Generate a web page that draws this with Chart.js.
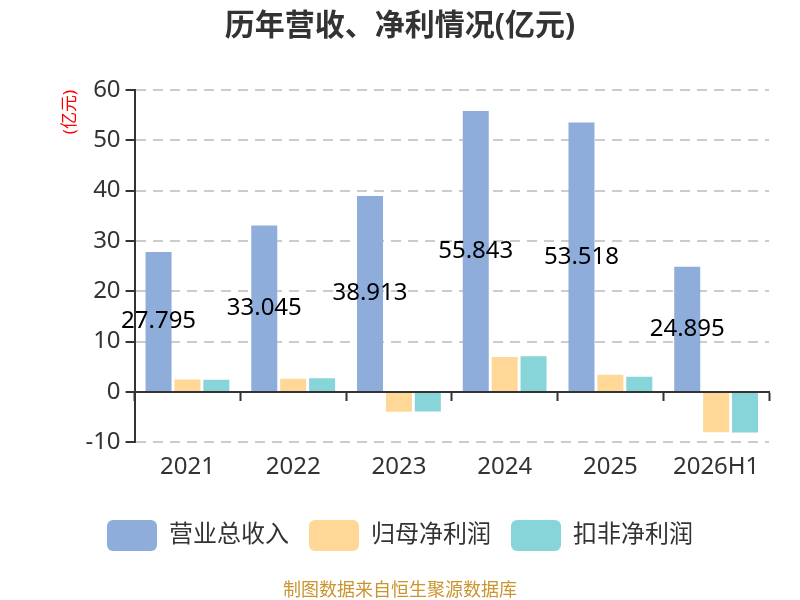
<!DOCTYPE html>
<html>
<head>
<meta charset="utf-8">
<title>历年营收、净利情况</title>
<script src="https://cdn.jsdelivr.net/npm/chart.js@4.4.0/dist/chart.umd.min.js"></script>
<style>
  html, body { margin: 0; padding: 0; background: #fff; }
  #wrap { width: 800px; height: 600px; }
</style>
</head>
<body>
<div id="wrap"><canvas id="barChart"></canvas></div>
<script>
  // data (亿元)
  const years = ['2021', '2022', '2023', '2024', '2025', '2026H1'];
  const revenue = [27.795, 33.045, 38.913, 55.843, 53.518, 24.895];
  const netProfit = [2.47, 2.6, -3.93, 6.93, 3.4, -8.0];
  const deductedProfit = [2.42, 2.73, -3.9, 7.07, 3.0, -8.07];
  const yMin = -10;
  const yMax = 60;
  const yStep = 10;

  const fontFamily = "'Noto Sans', 'Noto Sans CJK SC', sans-serif";
  Chart.defaults.font.family = fontFamily;
  Chart.defaults.color = '#333';

  // revenue value written in the middle of each blue bar
  const valueLabels = {
      id: 'valueLabels',
      afterDatasetsDraw(chart) {
          const ctx = chart.ctx;
          const meta = chart.getDatasetMeta(0);
          ctx.save();
          ctx.font = '24px ' + fontFamily;
          ctx.fillStyle = '#000';
          ctx.textAlign = 'center';
          ctx.textBaseline = 'middle';
          meta.data.forEach((bar, i) => {
              ctx.fillText(revenue[i].toFixed(3), bar.x, (bar.y + bar.base) / 2);
          });
          ctx.restore();
      }
  };

  const barCtx = document.getElementById('barChart').getContext('2d');
  const barChart = new Chart(barCtx, {
      type: 'bar',
      data: {
          labels: years,
          datasets: [{
              label: '营业总收入',
              data: revenue,
              backgroundColor: '#8eaddb',
              xAxisID: 'x'
          }, {
              label: '归母净利润',
              data: netProfit,
              backgroundColor: '#ffd897',
              xAxisID: 'x'
          }, {
              label: '扣非净利润',
              data: deductedProfit,
              backgroundColor: '#87d5d8',
              xAxisID: 'x'
          }]
      },
      options: {
          responsive: true,
          maintainAspectRatio: false,
          animation: false,
          barPercentage: 0.9,
          categoryPercentage: 0.82,
          layout: {
              padding: { left: 31, right: 31, top: 0, bottom: 0 }
          },
          plugins: {
              title: {
                  display: true,
                  text: '历年营收、净利情况(亿元)',
                  color: '#333',
                  font: { size: 30, weight: 'bold' },
                  padding: { top: 8, bottom: 46 }
              },
              subtitle: {
                  display: true,
                  text: '制图数据来自恒生聚源数据库',
                  position: 'bottom',
                  color: '#c9952e',
                  font: { size: 18, lineHeight: 1 },
                  padding: { top: 21, bottom: 0 }
              },
              legend: {
                  position: 'bottom',
                  labels: {
                      boxWidth: 50,
                      boxHeight: 31,
                      padding: 20,
                      color: '#333',
                      font: { size: 24 },
                      useBorderRadius: true,
                      borderRadius: 6
                  }
              },
              tooltip: { enabled: false }
          },
          scales: {
              x: {
                  type: 'category',
                  position: 'bottom',
                  offset: true,
                  grid: { display: false, drawTicks: false },
                  border: { display: false },
                  ticks: { padding: 11, color: '#333', font: { size: 24 } },
                  afterFit(axis) {
                      axis.height += 7;
                  }
              },
              // zero line with the category ticks hanging below it
              x2: {
                  type: 'category',
                  position: { y: 0 },
                  offset: true,
                  grid: {
                      offset: true,
                      drawOnChartArea: false,
                      drawTicks: true,
                      tickLength: 8,
                      tickWidth: 2,
                      tickColor: '#333',
                      color: '#333'
                  },
                  border: { display: true, color: '#333', width: 2, z: 1 },
                  ticks: { display: false }
              },
              y: {
                  min: yMin,
                  max: yMax,
                  ticks: { stepSize: yStep, padding: 5, color: '#333', font: { size: 24 } },
                  grid: {
                      color: '#cccccc',
                      lineWidth: 2,
                      tickColor: '#333',
                      tickWidth: 2,
                      tickLength: 9
                  },
                  border: { display: true, color: '#333', width: 2, dash: [10, 7], z: 1 },
                  title: {
                      display: true,
                      text: '(亿元)',
                      color: '#ff0000',
                      align: 'end',
                      font: { size: 17 },
                      padding: { top: 29, bottom: 0 }
                  }
              }
          }
      },
      plugins: [valueLabels]
  });
</script>
</body>
</html>
